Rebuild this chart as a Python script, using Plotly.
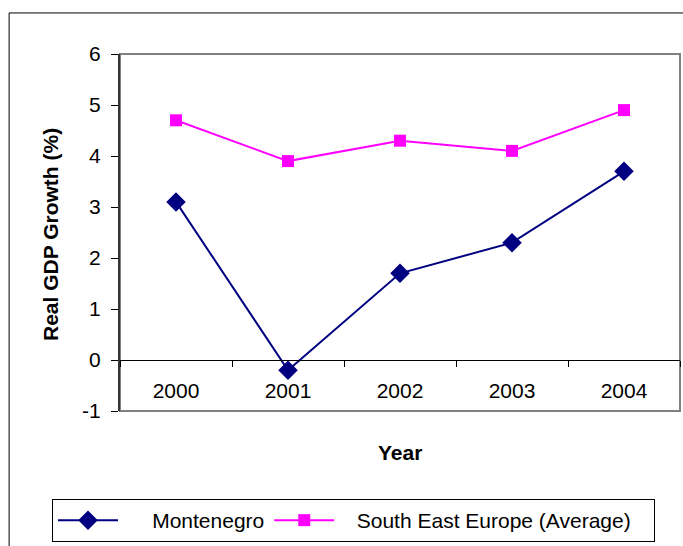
import plotly.graph_objects as go

years = ["2000", "2001", "2002", "2003", "2004"]
montenegro = [3.1, -0.2, 1.7, 2.3, 3.7]
see_average = [4.7, 3.9, 4.3, 4.1, 4.9]
y_ticks = [-1, 0, 1, 2, 3, 4, 5, 6]
y_tick_text = ["-1", "0", "1", "2", "3", "4", "5", "6"]

FONT = "Liberation Sans, Arial, sans-serif"
FS = 21
Y_MIN, Y_MAX = -1, 6
NB = "\u00a0"

fig = go.Figure()
fig.add_trace(go.Scatter(
    x=years, y=montenegro, name=NB * 5 + "Montenegro", mode="lines+markers",
    line=dict(color="#000080", width=2),
    marker=dict(symbol="diamond", size=15, color="#000080"),
))
fig.add_trace(go.Scatter(
    x=years, y=see_average, name=NB * 3 + "South East Europe (Average)" + NB * 3,
    mode="lines+markers",
    line=dict(color="#FF00FF", width=2),
    marker=dict(symbol="square", size=12, color="#FF00FF"),
))

# gray frame around the plot area and the outer chart frame
fig.add_shape(type="rect", xref="paper", yref="paper", x0=0, x1=1, y0=0, y1=1,
              line=dict(color="#808080", width=2), layer="below")
fig.add_shape(type="rect", xref="paper", yref="paper", x0=-0.198, x1=1.3, y0=-0.6, y1=1.115,
              line=dict(color="#000000", width=1), layer="below")

fig.add_annotation(text="<b>Real GDP Growth (%)</b>", xref="paper", yref="paper",
                   x=(50 - 120) / 560, y=(411 - 235) / 357, textangle=-90, showarrow=False,
                   xanchor="center", yanchor="middle",
                   font=dict(family=FONT, size=FS, color="black"))
fig.add_annotation(text="<b>Year</b>", xref="paper", yref="paper",
                   x=(400 - 120) / 560, y=(411 - 452) / 357, showarrow=False,
                   xanchor="center", yanchor="middle",
                   font=dict(family=FONT, size=FS, color="black"))

fig.update_layout(
    width=683, height=546,
    margin=dict(l=120, r=3, t=54, b=135, autoexpand=False),
    paper_bgcolor="white", plot_bgcolor="white",
    font=dict(family=FONT, size=FS, color="black"),
    showlegend=True,
    legend=dict(
        orientation="h",
        x=(52 - 120) / 560, y=(411 - 499) / 357, xanchor="left", yanchor="top",
        bordercolor="black", borderwidth=1, bgcolor="white",
        font=dict(family=FONT, size=FS, color="black"),
        itemwidth=60, tracegroupgap=0,
    ),
    xaxis=dict(
        type="category", range=[-0.5, 4.5],
        anchor="free", position=(0 - Y_MIN) / (Y_MAX - Y_MIN),
        showline=True, linecolor="black", linewidth=1,
        tickson="boundaries", ticks="outside", ticklen=6, tickcolor="black",
        ticklabelstandoff=12,
        showgrid=False, zeroline=False,
        tickfont=dict(family=FONT, size=FS, color="black"),
    ),
    yaxis=dict(
        range=[Y_MIN, Y_MAX], tickvals=y_ticks, ticktext=y_tick_text,
        showline=True, linecolor="#333333", linewidth=2,
        ticks="outside", ticklen=7, tickcolor="black",
        ticklabelstandoff=6,
        showgrid=False, zeroline=False,
        tickfont=dict(family=FONT, size=FS, color="black"),
    ),
)

fig.write_html("out.html")
